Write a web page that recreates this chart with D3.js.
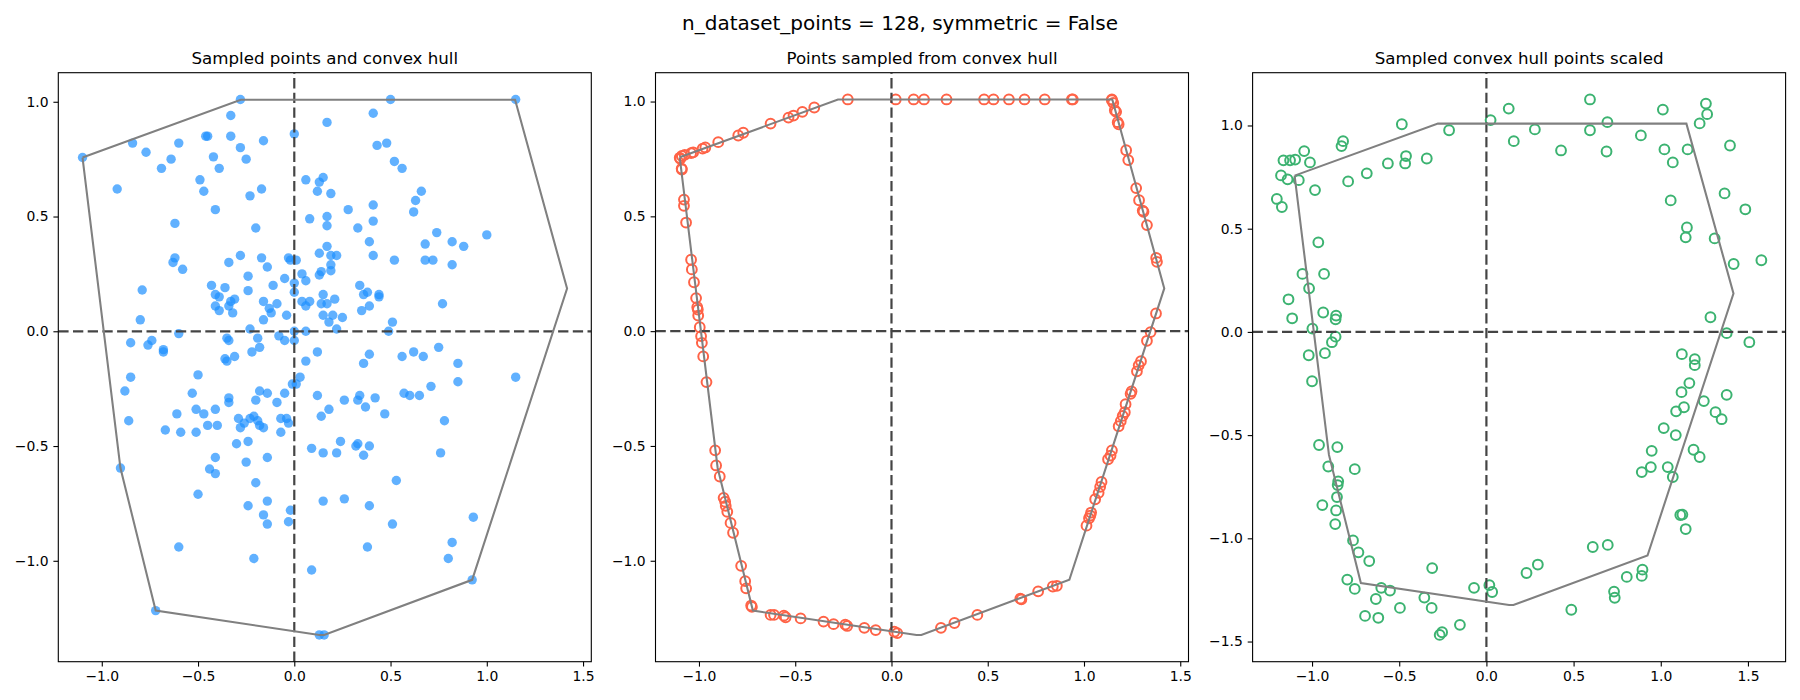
<!DOCTYPE html>
<html>
<head>
<meta charset="utf-8">
<script src="https://cdn.jsdelivr.net/npm/d3@7/dist/d3.min.js"></script>
<style>
body { margin: 0; background: #ffffff; }
svg text { font-family: "DejaVu Sans", sans-serif; fill: #000000; }
</style>
</head>
<body>
<div id="chart"></div>
<script>
/**
 * 凸包サンプリングの3パネル図
 * ・左：データ点と凸包
 * ・中：凸包上からサンプルした点
 * ・右：スケールしたサンプル点
 */

var suptitle = "n_dataset_points = 128, symmetric = False";
var panelTitles = ["Sampled points and convex hull", "Points sampled from convex hull", "Sampled convex hull points scaled"];

var xTicks = [-1.0, -0.5, 0.0, 0.5, 1.0, 1.5];
var yTicks = [-1.0, -0.5, 0.0, 0.5, 1.0];
var yTicksScaled = [-1.5, -1.0, -0.5, 0.0, 0.5, 1.0];

// 凸包の頂点（閉じる）
var hullVertices = [
	[-1.10, 0.757], [-0.278, 1.009], [0.497, 1.009], [1.147, 1.009], [1.417, 0.186],
	[0.924, -1.083], [0.155, -1.323], [0.130, -1.323], [-0.720, -1.217], [-0.903, -0.596]
];

// データ点（青）
var datasetPoints = [
	[-0.28,1.01],[0.50,1.01],[1.15,1.01],[-0.33,0.94],[0.41,0.95],[0.17,0.91],[0.00,0.86],[-0.84,0.82],
	[-0.60,0.82],[-0.46,0.85],[-0.45,0.85],[-0.33,0.85],[-0.16,0.83],[-0.28,0.80],[-0.77,0.78],[0.43,0.81],
	[0.48,0.82],[-1.10,0.757],[-0.64,0.75],[-0.42,0.76],[-0.25,0.75],[-0.69,0.71],[-0.39,0.71],[0.52,0.74],
	[0.56,0.71],[0.06,0.66],[0.15,0.67],[0.13,0.65],[-0.49,0.66],[-0.92,0.62],[-0.47,0.61],[-0.17,0.62],
	[0.12,0.61],[0.19,0.60],[-0.23,0.59],[0.66,0.61],[0.63,0.57],[0.41,0.55],[-0.41,0.53],[0.28,0.53],
	[0.62,0.52],[0.08,0.49],[0.17,0.50],[-0.62,0.47],[0.17,0.46],[0.41,0.48],[-0.20,0.45],[0.33,0.45],
	[0.74,0.43],[1.00,0.42],[0.39,0.39],[0.68,0.38],[0.82,0.39],[0.88,0.37],[0.17,0.37],[0.13,0.34],
	[-0.28,0.33],[-0.17,0.32],[-0.62,0.32],[-0.63,0.30],[-0.34,0.30],[-0.03,0.32],[-0.02,0.31],[0.01,0.31],
	[0.19,0.33],[0.22,0.33],[0.41,0.33],[0.52,0.31],[0.68,0.31],[0.72,0.31],[0.82,0.29],[0.19,0.29],
	[-0.58,0.27],[-0.14,0.28],[0.04,0.25],[0.14,0.26],[0.13,0.245],[0.19,0.264],[0.06,0.22],[-0.24,0.24],
	[-0.05,0.23],[-0.79,0.18],[-0.43,0.20],[-0.36,0.19],[-0.11,0.20],[0.00,0.21],[0.34,0.20],[0.38,0.17],
	[0.36,0.16],[0.44,0.16],[0.44,0.15],[0.00,0.17],[-0.24,0.177],[-0.41,0.16],[-0.39,0.15],[-0.31,0.14],
	[-0.33,0.13],[0.15,0.16],[0.21,0.14],[-0.16,0.13],[0.04,0.13],[0.08,0.13],[0.06,0.11],[0.14,0.12],
	[0.17,0.12],[0.77,0.12],[-0.41,0.11],[-0.34,0.11],[-0.09,0.12],[-0.13,0.10],[-0.12,0.08],[-0.39,0.09],
	[-0.32,0.08],[-0.04,0.07],[0.39,0.11],[0.35,0.09],[0.15,0.07],[0.20,0.07],[0.25,0.06],[0.18,0.04],
	[-0.16,0.05],[-0.80,0.05],[0.51,0.04],[-0.23,0.01],[0.22,0.01],[0.49,0.00],[0.00,0.00],[0.06,0.00],
	[-0.60,-0.01],[-0.85,-0.05],[-0.74,-0.04],[-0.76,-0.06],[-0.68,-0.08],[-0.68,-0.09],[-0.35,-0.03],[-0.34,-0.04],
	[-0.19,-0.03],[-0.18,-0.07],[-0.22,-0.09],[-0.08,-0.02],[-0.05,-0.04],[0.00,-0.04],[0.12,-0.09],[0.39,-0.10],
	[0.62,-0.09],[0.67,-0.11],[0.75,-0.07],[0.56,-0.11],[-0.36,-0.12],[-0.35,-0.13],[-0.31,-0.11],[0.06,-0.13],
	[0.36,-0.14],[0.85,-0.14],[1.15,-0.20],[-0.85,-0.20],[-0.50,-0.19],[0.03,-0.20],[-0.01,-0.23],[0.01,-0.23],
	[0.85,-0.22],[0.71,-0.24],[-0.88,-0.26],[-0.53,-0.27],[-0.18,-0.26],[-0.14,-0.27],[-0.05,-0.27],[0.12,-0.28],
	[0.34,-0.28],[0.57,-0.27],[0.60,-0.28],[0.65,-0.28],[-0.34,-0.29],[-0.34,-0.31],[-0.20,-0.30],[-0.09,-0.31],
	[0.26,-0.30],[0.33,-0.30],[0.42,-0.29],[0.37,-0.33],[0.18,-0.34],[-0.41,-0.34],[-0.61,-0.36],[-0.51,-0.34],
	[-0.47,-0.36],[0.47,-0.36],[0.14,-0.37],[-0.29,-0.38],[-0.21,-0.37],[-0.23,-0.38],[-0.07,-0.38],[-0.04,-0.38],
	[-0.19,-0.39],[-0.26,-0.40],[-0.03,-0.40],[-0.86,-0.39],[0.78,-0.39],[-0.45,-0.41],[-0.40,-0.41],[-0.18,-0.41],
	[-0.16,-0.42],[-0.28,-0.42],[-0.67,-0.43],[-0.59,-0.44],[-0.51,-0.44],[-0.07,-0.44],[0.24,-0.48],[0.33,-0.49],
	[0.32,-0.50],[0.39,-0.50],[-0.24,-0.48],[-0.30,-0.49],[0.09,-0.51],[0.15,-0.53],[0.22,-0.53],[0.36,-0.54],
	[0.76,-0.53],[-0.41,-0.55],[-0.14,-0.55],[-0.903,-0.596],[-0.44,-0.60],[-0.25,-0.57],[-0.41,-0.62],[0.53,-0.65],
	[-0.20,-0.66],[-0.50,-0.71],[-0.14,-0.74],[-0.24,-0.76],[0.15,-0.74],[0.26,-0.73],[0.39,-0.76],[-0.02,-0.78],
	[-0.16,-0.80],[0.93,-0.81],[-0.03,-0.83],[-0.14,-0.84],[0.51,-0.84],[-0.60,-0.94],[0.38,-0.94],[0.82,-0.92],
	[-0.21,-0.99],[0.80,-0.99],[0.09,-1.04],[0.924,-1.083],[-0.720,-1.217],[0.130,-1.323],[0.155,-1.323]
];

// 凸包からサンプルした点（赤）
var sampledPoints = [
	[-0.227,1.009],[0.022,1.009],[0.115,1.009],[0.169,1.009],[0.286,1.009],[0.481,1.009],[0.530,1.009],
	[0.610,1.009],[0.691,1.009],[0.796,1.009],[0.937,1.009],[0.942,1.009],[1.145,1.009],
	[-0.401,0.974],[-0.463,0.955],[-0.509,0.939],[-0.535,0.930],[-0.628,0.904],[-0.770,0.864],[-0.796,0.852],
	[-0.900,0.823],[-0.967,0.800],[-0.981,0.795],[-1.030,0.779],[-1.041,0.775],[-1.074,0.768],[-1.089,0.763],
	[-1.100,0.755],[-1.097,0.750],
	[-1.090,0.708],[-1.089,0.704],[-1.078,0.573],[-1.078,0.546],[-1.067,0.473],[-1.041,0.311],[-1.037,0.269],
	[-1.026,0.213],[-1.015,0.144],[-1.009,0.104],[-1.006,0.094],[-1.004,0.068],[-0.996,0.017],[-0.989,-0.022],
	[-0.985,-0.051],[-0.978,-0.110],
	[-0.961,-0.222],[-0.916,-0.519],[-0.911,-0.585],[-0.892,-0.633],[-0.872,-0.726],[-0.864,-0.743],[-0.861,-0.761],
	[-0.853,-0.787],[-0.836,-0.835],[-0.823,-0.878],[-0.781,-1.022],[-0.760,-1.089],[-0.755,-1.120],[-0.729,-1.195],
	[-0.725,-1.201],
	[-0.628,-1.236],[-0.610,-1.236],[-0.559,-1.239],[-0.550,-1.246],[-0.472,-1.251],[-0.353,-1.265],[-0.301,-1.276],
	[-0.240,-1.278],[-0.230,-1.284],[-0.141,-1.292],[-0.082,-1.302],[0.015,-1.309],[0.030,-1.315],
	[0.257,-1.292],[0.327,-1.271],[0.446,-1.236],[0.669,-1.165],[0.675,-1.168],[0.762,-1.133],[0.838,-1.112],
	[0.859,-1.109],
	[1.013,-0.847],[1.026,-0.815],[1.033,-0.803],[1.037,-0.790],[1.058,-0.732],[1.076,-0.704],[1.084,-0.678],
	[1.091,-0.657],[1.125,-0.558],[1.138,-0.542],[1.145,-0.519],[1.180,-0.414],[1.191,-0.392],[1.201,-0.369],
	[1.212,-0.353],[1.216,-0.318],[1.242,-0.273],[1.247,-0.262],[1.275,-0.175],[1.284,-0.149],[1.296,-0.131],
	[1.327,-0.042],[1.346,-0.004],[1.374,0.077],
	[1.145,1.006],[1.152,0.994],[1.160,0.962],[1.167,0.955],[1.175,0.910],[1.180,0.901],[1.219,0.788],
	[1.230,0.745],[1.271,0.623],[1.286,0.570],[1.305,0.525],[1.309,0.520],[1.327,0.462],[1.375,0.319],
	[1.379,0.302]
];

// スケール後のサンプル点（緑）
var scaledPoints = [
	[-0.485,1.006],[-0.214,0.977],[0.024,1.026],[0.128,1.082],[0.157,0.924],[0.278,0.981],[0.428,0.879],
	[0.594,1.126],[0.594,0.977],[0.694,1.016],[0.689,0.874],[0.886,0.952],[1.012,1.077],[1.021,0.884],
	[1.069,0.821],[1.154,0.884],[1.223,1.010],[1.259,1.106],[1.266,1.055],[1.397,0.903],[1.366,0.671],
	[1.485,0.594],[1.057,0.637],[1.150,0.506],[1.143,0.458],[1.309,0.453],[1.418,0.329],[1.577,0.347],
	[1.285,0.071],[1.378,-0.006],[1.508,-0.050],[1.121,-0.108],[1.195,-0.132],[1.195,-0.161],
	[-1.202,0.644],[-1.173,0.605],[-1.178,0.758],[-1.140,0.739],[-1.076,0.735],[-1.164,0.831],[-1.126,0.831],
	[-1.097,0.835],[-1.045,0.876],[-1.012,0.821],[-0.983,0.687],[-0.831,0.900],[-0.822,0.924],[-0.793,0.729],
	[-0.686,0.768],[-0.565,0.816],[-0.466,0.816],[-0.461,0.852],[-0.342,0.840],[-0.964,0.434],[-1.055,0.281],
	[-0.931,0.281],[-1.017,0.211],[-1.135,0.158],[-1.114,0.066],[-0.936,0.094],[-0.862,0.079],[-0.865,0.061],
	[-0.998,0.016],[-0.865,-0.023],[-0.886,-0.050],[-1.019,-0.113],[-0.926,-0.103],
	[-1.000,-0.239],[1.164,-0.248],[1.119,-0.292],[1.378,-0.305],[1.247,-0.335],[1.133,-0.365],[1.088,-0.385],
	[1.314,-0.389],[1.349,-0.423],[1.017,-0.466],[1.086,-0.500],[0.948,-0.576],[1.188,-0.571],[1.223,-0.606],
	[0.891,-0.679],[0.943,-0.655],[1.040,-0.655],[1.069,-0.703],[1.124,-0.885],[1.112,-0.887],[1.143,-0.955],
	[0.610,-1.042],[0.696,-1.032],[0.895,-1.152],[0.891,-1.182],[0.805,-1.187],[0.732,-1.258],[0.736,-1.288],
	[0.487,-1.346],[0.295,-1.127],[0.230,-1.168],[0.017,-1.227],[0.033,-1.260],[-0.071,-1.240],[-0.152,-1.419],
	[-0.254,-1.455],[-0.268,-1.468],[-0.311,-1.144],[-0.356,-1.287],[-0.314,-1.337],[-0.496,-1.337],[-0.553,-1.253],
	[-0.603,-1.240],[-0.634,-1.294],[-0.620,-1.385],[-0.696,-1.376],[-0.798,-1.200],[-0.755,-1.245],[-0.672,-1.110],
	[-0.734,-1.068],[-0.765,-1.010],[-0.867,-0.931],[-0.862,-0.865],[-0.941,-0.839],[-0.857,-0.800],[-0.850,-0.724],
	[-0.853,-0.742],[-0.755,-0.665],[-0.907,-0.652],[-0.960,-0.548],[-0.855,-0.558]
];

var W = 1800, H = 700;
var panelLefts = [58.3, 655.5, 1252.6];
var panelTop = 72.7, panelW = 533, panelH = 589;

var svg = d3.select("#chart").append("svg")
	.attr("width", W)
	.attr("height", H);

svg.append("text")
	.attr("x", W / 2)
	.attr("y", 29.5)
	.style("font-size", "20px")
	.style("text-anchor", "middle")
	.text(suptitle);

/**
 * matplotlib風に5%の余白を付けた範囲を返す
 */
function padded(vals){
	var e = d3.extent(vals);
	var m = (e[1] - e[0]) * 0.05;
	return [e[0] - m, e[1] + m];
}

/**
 * パネルを1枚描画する
 * @param i パネル番号
 * @param points 点データ
 * @param kind "filled" か "ring"
 * @param color 点の色
 * @param yTickValues y軸の目盛
 */
function view_panel(i, points, kind, color, yTickValues){
	var left = panelLefts[i];
	var all = points.concat(hullVertices);

	var x = d3.scaleLinear()
		.domain(padded(all.map(function(d) { return d[0]; })))
		.range([left, left + panelW]);
	var y = d3.scaleLinear()
		.domain(padded(all.map(function(d) { return d[1]; })))
		.range([panelTop + panelH, panelTop]);

	var g = svg.append("g");

	// クリップ
	g.append("clipPath")
		.attr("id", "clip" + i)
		.append("rect")
		.attr("x", left)
		.attr("y", panelTop)
		.attr("width", panelW)
		.attr("height", panelH);

	var plot = g.append("g").attr("clip-path", "url(#clip" + i + ")");

	// 点
	if (kind == "filled") {
		plot.selectAll(".pt")
		.data(points)
		.enter().append("circle")
		.attr("cx", function(d) { return x(d[0]); })
		.attr("cy", function(d) { return y(d[1]); })
		.attr("r", 4.7)
		.style("fill", color)
		.style("fill-opacity", 0.7);
	} else {
		plot.selectAll(".pt")
		.data(points)
		.enter().append("circle")
		.attr("cx", function(d) { return x(d[0]); })
		.attr("cy", function(d) { return y(d[1]); })
		.attr("r", 4.9)
		.style("fill", "none")
		.style("stroke", color)
		.style("stroke-width", 2);
	}

	// 原点の破線
	plot.append("line")
		.attr("x1", left)
		.attr("x2", left + panelW)
		.attr("y1", y(0))
		.attr("y2", y(0))
		.style("stroke", "#444444")
		.style("stroke-width", 2.2)
		.style("stroke-dasharray", "10.3,4.4");
	plot.append("line")
		.attr("x1", x(0))
		.attr("x2", x(0))
		.attr("y1", panelTop + panelH)
		.attr("y2", panelTop)
		.style("stroke", "#444444")
		.style("stroke-width", 2.2)
		.style("stroke-dasharray", "10.3,4.4");

	// 凸包
	var line = d3.line()
		.x(function(d) { return x(d[0]); })
		.y(function(d) { return y(d[1]); });
	plot.append("path")
		.attr("d", line(hullVertices.concat([hullVertices[0]])))
		.style("fill", "none")
		.style("stroke", "#808080")
		.style("stroke-width", 2.08)
		.style("stroke-linejoin", "miter");

	// 枠
	g.append("rect")
		.attr("x", left)
		.attr("y", panelTop)
		.attr("width", panelW)
		.attr("height", panelH)
		.style("fill", "none")
		.style("stroke", "#000000")
		.style("stroke-width", 1.1);

	// 軸
	var fmt = d3.format(".1f");
	var xa = g.append("g")
		.attr("transform", "translate(0," + (panelTop + panelH) + ")")
		.call(d3.axisBottom(x).tickValues(xTicks).tickFormat(fmt).tickSize(4.9).tickPadding(4.5));
	var ya = g.append("g")
		.attr("transform", "translate(" + left + ",0)")
		.call(d3.axisLeft(y).tickValues(yTickValues).tickFormat(fmt).tickSize(4.9).tickPadding(4.9));

	[xa, ya].forEach(function(a){
		a.select(".domain").remove();
		a.selectAll(".tick line").style("stroke", "#000000").style("stroke-width", 1.1);
		a.selectAll(".tick text")
			.style("font-size", "13.9px")
			.style("font-family", '"DejaVu Sans", sans-serif')
			.style("fill", "#000000");
	});

	// タイトル
	g.append("text")
		.attr("x", left + panelW / 2)
		.attr("y", panelTop - 8.3)
		.style("font-size", "16.67px")
		.style("text-anchor", "middle")
		.text(panelTitles[i]);
}

view_panel(0, datasetPoints, "filled", "#1E90FF", yTicks);
view_panel(1, sampledPoints, "ring", "#FF6347", yTicks);
view_panel(2, scaledPoints, "ring", "#3CB371", yTicksScaled);
</script>
</body>
</html>
